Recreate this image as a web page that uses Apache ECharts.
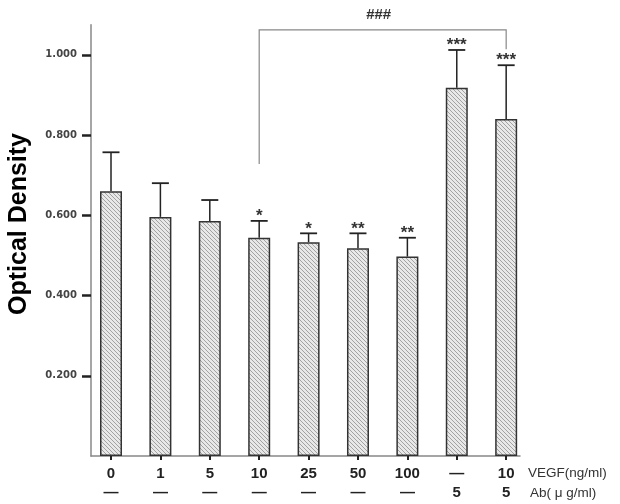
<!DOCTYPE html>
<html>
<head>
<meta charset="utf-8">
<script src="https://cdn.jsdelivr.net/npm/echarts@6/dist/echarts.min.js"></script>
<style>
html,body{margin:0;padding:0;background:#fff;}
#chart{width:620px;height:504px;}
</style>
</head>
<body>
<div id="chart"></div>
<script>
// ---- data ----
const vegfLabels = ['0', '1', '5', '10', '25', '50', '100', '\u2014', '10'];
const abLabels = ['\u2014', '\u2014', '\u2014', '\u2014', '\u2014', '\u2014', '\u2014', '5', '5'];
const means = [0.660, 0.596, 0.586, 0.544, 0.533, 0.518, 0.497, 0.918, 0.840];
const errTops = [0.757, 0.680, 0.638, 0.586, 0.555, 0.555, 0.544, 1.012, 0.974];
const sig = ['', '', '', '*', '*', '**', '**', '***', '***'];
const yTicks = [0.2, 0.4, 0.6, 0.8, 1.0];
const bracket = { from: 3, to: 8, leftLow: 0.728, top: 1.062, rightLow: 1.014, text: '###' };
const yName = 'Optical Density';
const xName1 = 'VEGF(ng/ml)';
const xName2 = 'Ab( \u03bc g/ml)';

// hatch pattern
const pc = document.createElement('canvas');
pc.width = 4; pc.height = 4;
const g = pc.getContext('2d');
g.fillStyle = '#e8e8e8';
g.fillRect(0, 0, 4, 4);
g.strokeStyle = '#a2a2a2';
g.lineWidth = 1;
g.beginPath();
g.moveTo(-1, -1); g.lineTo(5, 5);
g.moveTo(-1, 3); g.lineTo(1, 5);
g.moveTo(3, -1); g.lineTo(5, 1);
g.stroke();

const chart = echarts.init(document.getElementById('chart'));
const xIdx = vegfLabels.map((_, i) => i);

const option = {
  animation: false,
  backgroundColor: '#fff',
  grid: { left: 91, right: 100, top: 24.7, bottom: 48 },
  xAxis: {
    type: 'value',
    min: -0.405,
    max: 8.28,
    splitLine: { show: false },
    axisLine: { show: true, onZero: false, lineStyle: { color: '#888', width: 1.5 } },
    axisTick: { show: true, customValues: xIdx, length: 4, lineStyle: { color: '#222', width: 2 } },
    axisLabel: {
      customValues: xIdx,
      margin: 8,
      formatter: v => vegfLabels[Math.round(v)] + '\n' + abLabels[Math.round(v)],
      fontFamily: 'Liberation Sans',
      fontWeight: 'bold',
      fontSize: 15,
      lineHeight: 19,
      color: '#222'
    }
  },
  yAxis: {
    type: 'value',
    min: 0,
    max: 1.075,
    splitLine: { show: false },
    axisLine: { show: true, onZero: false, lineStyle: { color: '#888', width: 1.5 } },
    axisTick: { show: true, customValues: yTicks, length: 9, lineStyle: { color: '#222', width: 2.5 } },
    axisLabel: {
      customValues: yTicks,
      margin: 14,
      formatter: v => v.toFixed(3),
      fontFamily: 'DejaVu Sans',
      fontWeight: 'bold',
      fontSize: 10,
      color: '#444'
    }
  },
  graphic: [
    { type: 'text', x: 19, y: 224, rotation: Math.PI / 2,
      style: { text: yName, font: 'bold 25px "Liberation Sans"', fill: '#000', align: 'center', verticalAlign: 'middle' } },
    { type: 'text', x: 528, y: 473,
      style: { text: xName1, font: '13.5px "Liberation Sans"', fill: '#333', align: 'left', verticalAlign: 'middle' } },
    { type: 'text', x: 530, y: 493,
      style: { text: xName2, font: '13.5px "Liberation Sans"', fill: '#333', align: 'left', verticalAlign: 'middle' } }
  ],
  series: [
    {
      type: 'bar',
      barWidth: 22,
      data: means.map((v, i) => [i, v]),
      itemStyle: { color: { image: pc, repeat: 'repeat' }, borderColor: '#333', borderWidth: 1.5 }
    },
    {
      type: 'custom',
      data: means.map((v, i) => [i, v, errTops[i]]),
      renderItem: (params, api) => {
        const i = params.dataIndex;
        const p0 = api.coord([api.value(0), api.value(1)]);
        const p1 = api.coord([api.value(0), api.value(2)]);
        const hw = 8.5;
        return {
          type: 'group',
          children: [
            { type: 'line', shape: { x1: p0[0], y1: p0[1], x2: p1[0], y2: p1[1] }, style: { stroke: '#222', lineWidth: 1.5 } },
            { type: 'line', shape: { x1: p1[0] - hw, y1: p1[1], x2: p1[0] + hw, y2: p1[1] }, style: { stroke: '#222', lineWidth: 1.8 } },
            { type: 'text', style: { text: sig[i], x: p1[0], y: p1[1] - 4.5, align: 'center', verticalAlign: 'middle', font: 'bold 17px "Liberation Sans"', fill: '#333' } }
          ]
        };
      }
    },
    {
      type: 'custom',
      data: [[bracket.from, bracket.to, bracket.leftLow, bracket.top, bracket.rightLow]],
      renderItem: (params, api) => {
        const a = api.coord([api.value(0), api.value(2)]);
        const b = api.coord([api.value(0), api.value(3)]);
        const c = api.coord([api.value(1), api.value(3)]);
        const d = api.coord([api.value(1), api.value(4)]);
        return {
          type: 'group',
          children: [
            { type: 'polyline', shape: { points: [a, b, c, d] }, style: { stroke: '#888', lineWidth: 1.2, fill: null } },
            { type: 'text', style: { text: bracket.text, x: (b[0] + c[0]) / 2 - 4, y: b[1] - 15, align: 'center', verticalAlign: 'middle', font: 'bold 15px "Liberation Sans"', fill: '#333' } }
          ]
        };
      }
    }
  ]
};
chart.setOption(option);
</script>
</body>
</html>
